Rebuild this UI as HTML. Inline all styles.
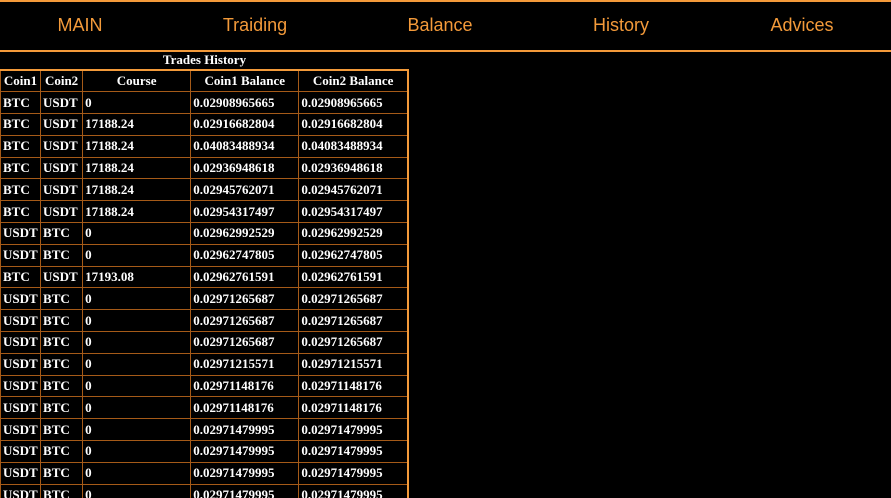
<!DOCTYPE html>
<html><head><meta charset="utf-8"><style>
html,body{margin:0;padding:0;background:#000;width:891px;height:498px;overflow:hidden}
#wrap{position:relative;width:891px;height:498px;overflow:hidden;background:#000}
#nav{position:absolute;left:0;top:0;width:891px;height:48px;border-top:2px solid #f39a3a;border-bottom:2px solid #f39a3a;box-sizing:content-box}
.nav-item{position:absolute;top:13px;font:18px "Liberation Sans",sans-serif;color:#f39a3a;transform:translateX(-50%);white-space:nowrap}
#cap{position:absolute;left:0;width:409px;top:52px;text-align:center;font:bold 13px "Liberation Serif",serif;color:#fff}
table{position:absolute;left:0;top:69px;border-collapse:collapse;table-layout:fixed;width:409px;border:2px solid #f39a3a;border-left:none;font:bold 13px "Liberation Serif",serif;color:#fff}
tr{height:21.8px}
td,th{border:1px solid #a55a18;padding:0 2px;white-space:nowrap;overflow:hidden;text-align:left}
th{text-align:center}
</style></head><body>
<div id="wrap">
<div id="nav">
<span class="nav-item" style="left:80px">MAIN</span>
<span class="nav-item" style="left:255px">Traiding</span>
<span class="nav-item" style="left:440px">Balance</span>
<span class="nav-item" style="left:621px">History</span>
<span class="nav-item" style="left:802px">Advices</span>
</div>
<div id="cap">Trades History</div>
<table>
<colgroup><col style="width:40px"><col style="width:42px"><col style="width:108px"><col style="width:108px"><col style="width:109px"></colgroup>
<thead><tr><th>Coin1</th><th>Coin2</th><th>Course</th><th>Coin1 Balance</th><th>Coin2 Balance</th></tr></thead>
<tbody id="tb"></tbody></table>
</div>
<script>
const rows=[
["BTC","USDT","0","0.02908965665"],
["BTC","USDT","17188.24","0.02916682804"],
["BTC","USDT","17188.24","0.04083488934"],
["BTC","USDT","17188.24","0.02936948618"],
["BTC","USDT","17188.24","0.02945762071"],
["BTC","USDT","17188.24","0.02954317497"],
["USDT","BTC","0","0.02962992529"],
["USDT","BTC","0","0.02962747805"],
["BTC","USDT","17193.08","0.02962761591"],
["USDT","BTC","0","0.02971265687"],
["USDT","BTC","0","0.02971265687"],
["USDT","BTC","0","0.02971265687"],
["USDT","BTC","0","0.02971215571"],
["USDT","BTC","0","0.02971148176"],
["USDT","BTC","0","0.02971148176"],
["USDT","BTC","0","0.02971479995"],
["USDT","BTC","0","0.02971479995"],
["USDT","BTC","0","0.02971479995"],
["USDT","BTC","0","0.02971479995"]];
const tb=document.getElementById('tb');
rows.forEach(r=>{const tr=document.createElement('tr');


[r[0],r[1],r[2],r[3],r[3]].forEach(v=>{const td=document.createElement('td');td.textContent=v;tr.appendChild(td);});
tb.appendChild(tr);});
</script>
</body></html>
